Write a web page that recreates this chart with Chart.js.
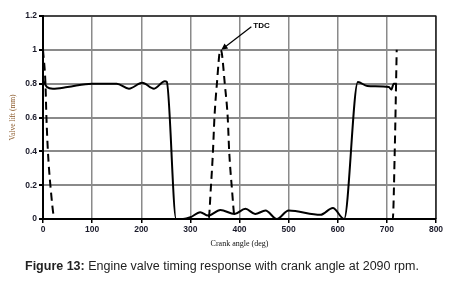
<!DOCTYPE html>
<html>
<head>
<meta charset="utf-8">
<script src="https://cdn.jsdelivr.net/npm/chart.js@4/dist/chart.umd.min.js"></script>
<style>
  body { margin: 0; background: #fff; }
  #wrap { position: relative; width: 457px; height: 285px; }
  #caption {
    position: absolute; left: 25px; top: 259px; width: 430px;
    font-family: "Liberation Sans", Arial, sans-serif; font-size: 12.5px; color: #222;
    white-space: nowrap;
  }
</style>
</head>
<body>
<div id="wrap">
  <canvas id="chart" width="457" height="285"></canvas>
  <div id="caption"><b>Figure 13:</b> Engine valve timing response with crank angle at 2090 rpm.</div>
</div>
<script>
// crank angle (deg) / valve lift (mm)
const solidAngle = [0, 8, 20, 50, 100, 150, 175, 202, 226, 248, 252, 271, 285, 300, 320, 336, 361, 390, 412, 432, 453, 476, 500, 565, 590, 613, 641, 660, 704, 709, 714, 720];
const solidLift  = [0.82, 0.78, 0.77, 0.78, 0.8, 0.8, 0.77, 0.805, 0.77, 0.815, 0.81, 0, 0, 0.01, 0.04, 0.02, 0.053, 0.03, 0.06, 0.03, 0.05, 0, 0.05, 0.025, 0.065, 0, 0.81, 0.786, 0.78, 0.765, 0.8, 0.8];

const dashAngle = [0, 5, 7, 10, 15, 24, 100, 337, 342, 346, 349, 354, 361, 364, 370, 376, 379, 384, 391, 712, 716, 720];
const dashLift  = [1.0, 0.8, 0.6, 0.4, 0.2, 0, 0, 0, 0.2, 0.4, 0.6, 0.8, 1.0, 0.98, 0.8, 0.6, 0.4, 0.2, 0, 0, 0.4, 1.0];

const xTicks = [0, 100, 200, 300, 400, 500, 600, 700, 800];
const yTicks = [0, 0.2, 0.4, 0.6, 0.8, 1, 1.2];

const tdcPoint = { x: 361, y: 1.0, label: 'TDC' };

const toPts = (xs, ys) => xs.map((x, i) => ({ x: x, y: ys[i] }));

const tickFont = { family: '"Liberation Sans", Arial, sans-serif', size: 8.5, weight: 'bold' };

// frame on top/right + TDC arrow
const extras = {
  id: 'extras',
  afterDatasetsDraw(chart) {
    const { ctx, chartArea: a, scales } = chart;
    ctx.save();
    ctx.strokeStyle = '#000';
    ctx.lineWidth = 1.2;
    ctx.beginPath();
    ctx.moveTo(a.left, a.top);
    ctx.lineTo(a.right, a.top);
    ctx.lineTo(a.right, a.bottom);
    ctx.stroke();

    const px = scales.x.getPixelForValue(tdcPoint.x) + 1;
    const py = scales.y.getPixelForValue(tdcPoint.y);
    const sx = px + 30, sy = py - 23;
    ctx.lineWidth = 1.2;
    ctx.beginPath();
    ctx.moveTo(sx, sy);
    ctx.lineTo(px + 4, py - 3);
    ctx.stroke();
    const ang = Math.atan2(py - sy, px - sx);
    ctx.beginPath();
    ctx.moveTo(px, py);
    ctx.lineTo(px - 7 * Math.cos(ang - 0.45), py - 7 * Math.sin(ang - 0.45));
    ctx.lineTo(px - 7 * Math.cos(ang + 0.45), py - 7 * Math.sin(ang + 0.45));
    ctx.closePath();
    ctx.fillStyle = '#000';
    ctx.fill();
    ctx.font = 'bold 8px "Liberation Sans", Arial, sans-serif';
    ctx.textBaseline = 'middle';
    ctx.fillText(tdcPoint.label, sx + 2, sy - 1);
    ctx.restore();
  }
};

new Chart(document.getElementById('chart'), {
  type: 'scatter',
  data: {
    datasets: [
      { data: toPts(solidAngle, solidLift), showLine: true, borderColor: '#000', borderWidth: 2, pointRadius: 0, cubicInterpolationMode: 'monotone' },
      { data: toPts(dashAngle, dashLift), showLine: true, borderColor: '#000', borderWidth: 2, borderDash: [8, 5], pointRadius: 0, cubicInterpolationMode: 'monotone' }
    ]
  },
  options: {
    responsive: false,
    animation: false,
    layout: { padding: { top: 16, right: 21, bottom: 33, left: 0 } },
    plugins: { legend: { display: false }, tooltip: { enabled: false } },
    scales: {
      x: {
        type: 'linear', min: 0, max: 800,
        afterBuildTicks: s => { s.ticks = xTicks.map(v => ({ value: v })); },
        afterFit: s => { s.height = 33; },
        grid: { color: '#8a8a8a', lineWidth: 1.5, tickColor: '#000', tickLength: 4 },
        border: { color: '#000', width: 2 },
        ticks: { color: '#1a1a2a', font: tickFont, padding: 2, maxRotation: 0, callback: v => String(v) },
        title: { display: true, text: 'Crank angle (deg)', color: '#111', font: { family: '"Liberation Serif", "Times New Roman", serif', size: 8 }, padding: { top: 0, bottom: 3 } }
      },
      y: {
        type: 'linear', min: 0, max: 1.2,
        afterBuildTicks: s => { s.ticks = yTicks.map(v => ({ value: v })); },
        afterFit: s => { s.width = 43; },
        grid: { color: '#8a8a8a', lineWidth: 2, tickColor: '#000', tickLength: 4 },
        border: { color: '#000', width: 2 },
        ticks: { color: '#1a1a2a', font: tickFont, padding: 2, callback: v => String(v) },
        title: { display: true, text: 'Valve lift (mm)', color: '#8b5a2b', font: { family: '"Liberation Serif", "Times New Roman", serif', size: 7.5 }, padding: { top: 9, bottom: 0 } }
      }
    }
  },
  plugins: [extras]
});
</script>
</body>
</html>
